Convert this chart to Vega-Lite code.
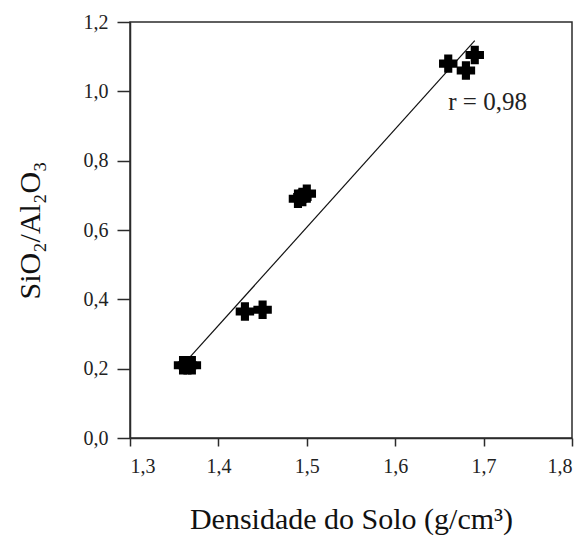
{
  "$schema": "https://vega.github.io/schema/vega-lite/v6.json",
  "autosize": {"type": "none"},
  "width": 442,
  "height": 416,
  "padding": {"left": 130, "top": 22, "right": 14, "bottom": 100},
  "background": "white",
  "config": {
    "font": "Liberation Serif",
    "view": {"stroke": "#2b2b2b", "strokeWidth": 1.5},
    "axis": {
      "domainColor": "#2b2b2b",
      "domainWidth": 1.5,
      "tickColor": "#2b2b2b",
      "tickWidth": 1.5,
      "grid": false,
      "labelFont": "Liberation Serif",
      "labelFontSize": 20,
      "labelColor": "#222",
      "titleFont": "Liberation Serif",
      "titleFontWeight": "normal",
      "titleColor": "#111",
      "titleFontSize": 30
    }
  },
  "datasets": {
    "amostras": [
      {"densidade": 1.36, "razao": 0.21},
      {"densidade": 1.365, "razao": 0.21},
      {"densidade": 1.37, "razao": 0.21},
      {"densidade": 1.43, "razao": 0.365},
      {"densidade": 1.45, "razao": 0.37},
      {"densidade": 1.49, "razao": 0.69},
      {"densidade": 1.495, "razao": 0.695},
      {"densidade": 1.5, "razao": 0.705},
      {"densidade": 1.66, "razao": 1.08},
      {"densidade": 1.68, "razao": 1.06},
      {"densidade": 1.69, "razao": 1.105}
    ],
    "ajuste": [
      {"densidade": 1.367, "razao": 0.231},
      {"densidade": 1.69, "razao": 1.146}
    ],
    "rotulo": [
      {"densidade": 1.66, "razao": 0.97, "texto": "r = 0,98"}
    ]
  },
  "layer": [
    {
      "data": {"name": "ajuste"},
      "mark": {"type": "line", "color": "#111", "strokeWidth": 1.2},
      "encoding": {
        "x": {
          "field": "densidade",
          "type": "quantitative",
          "scale": {"domain": [1.3, 1.8], "nice": false, "zero": false},
          "axis": {
            "title": "Densidade do Solo (g/cm³)",
            "values": [1.3, 1.4, 1.5, 1.6, 1.7, 1.8],
            "labelExpr": "replace(format(datum.value, '.1f'), '.', ',')",
            "tickSize": 8,
            "labelPadding": 10,
            "titlePadding": 28
          }
        },
        "y": {
          "field": "razao",
          "type": "quantitative",
          "scale": {"domain": [0, 1.2], "nice": false},
          "axis": {
            "title": "SiO₂/Al₂O₃",
            "values": [0, 0.2, 0.4, 0.6, 0.8, 1.0, 1.2],
            "labelExpr": "replace(format(datum.value, '.1f'), '.', ',')",
            "tickSize": 13,
            "labelPadding": 9,
            "titlePadding": 38
          }
        }
      }
    },
    {
      "data": {"name": "amostras"},
      "mark": {
        "type": "point",
        "filled": true,
        "color": "#000",
        "opacity": 1,
        "size": 340,
        "shape": "M-0.44,-1H0.44V-0.44H1V0.44H0.44V1H-0.44V0.44H-1V-0.44H-0.44Z"
      },
      "encoding": {
        "x": {"field": "densidade", "type": "quantitative"},
        "y": {"field": "razao", "type": "quantitative"}
      }
    },
    {
      "data": {"name": "rotulo"},
      "mark": {"type": "text", "align": "left", "baseline": "middle", "fontSize": 25, "font": "Liberation Serif", "color": "#222"},
      "encoding": {
        "x": {"field": "densidade", "type": "quantitative"},
        "y": {"field": "razao", "type": "quantitative"},
        "text": {"field": "texto"}
      }
    }
  ]
}
